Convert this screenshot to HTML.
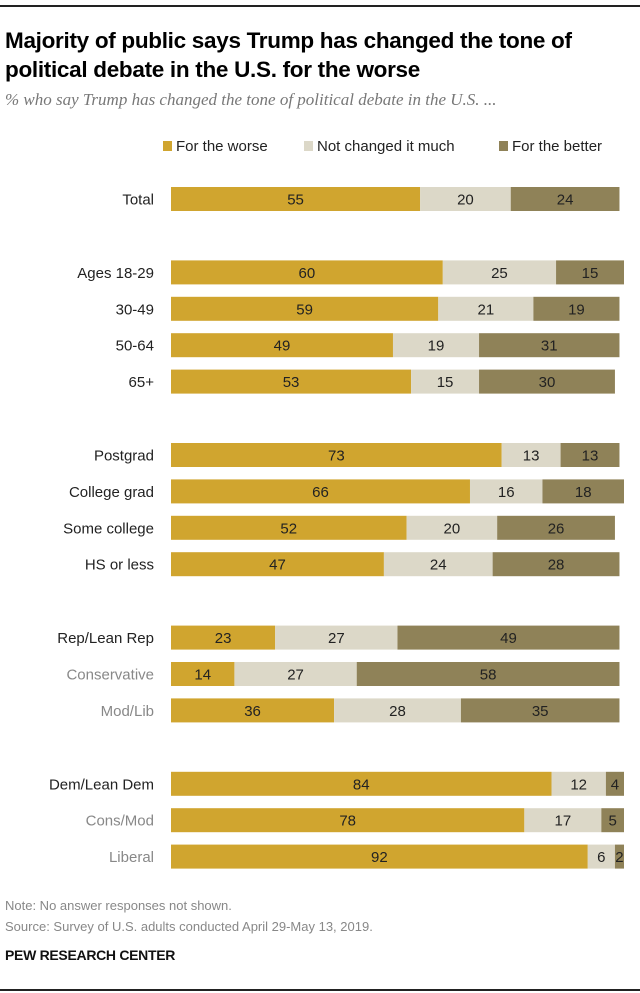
<!DOCTYPE html>
<html><head><meta charset="utf-8">
<style>
body{margin:0;background:#fff;}
#wrap{position:relative;width:640px;height:993px;font-family:"Liberation Sans",sans-serif;overflow:hidden;}
.t{position:absolute;white-space:nowrap;}
</style></head>
<body>
<div id="wrap">
<div class="t" style="left:0;top:5px;width:640px;height:2px;background:#222"></div>
<div class="t" style="left:5px;top:26px;font-size:22.5px;font-weight:bold;line-height:29px;color:#000;letter-spacing:-0.3px">Majority of public says Trump has changed the tone of<br>political debate in the U.S. for the worse</div>
<div class="t" style="left:5px;top:90px;font-family:'Liberation Serif',serif;font-style:italic;font-size:17px;color:#777">% who say Trump has changed the tone of political debate in the U.S. ...</div>
<div class="t" style="left:163px;top:138px;font-size:15px;color:#222"><span style="display:inline-block;width:9px;height:10px;background:#d0a52f;margin-right:4px"></span>For the worse</div>
<div class="t" style="left:304px;top:138px;font-size:15px;color:#222"><span style="display:inline-block;width:9px;height:10px;background:#dcd8c8;margin-right:4px"></span>Not changed it much</div>
<div class="t" style="left:499px;top:138px;font-size:15px;color:#222"><span style="display:inline-block;width:9px;height:10px;background:#8f8258;margin-right:4px"></span>For the better</div>
<svg id="chart" width="640" height="993" style="position:absolute;left:0;top:0"></svg>
<div class="t" style="left:5px;top:898px;font-size:13px;color:#888">Note: No answer responses not shown.</div>
<div class="t" style="left:5px;top:919px;font-size:13px;color:#888">Source: Survey of U.S. adults conducted April 29-May 13, 2019.</div>
<div class="t" style="left:5px;top:947px;font-size:14px;font-weight:bold;color:#111;letter-spacing:-0.3px">PEW RESEARCH CENTER</div>
<div class="t" style="left:0;top:989px;width:640px;height:2px;background:#222"></div>
</div>
<script>
const categories=["Total","Ages 18-29","30-49","50-64","65+","Postgrad","College grad","Some college","HS or less","Rep/Lean Rep","Conservative","Mod/Lib","Dem/Lean Dem","Cons/Mod","Liberal"];
const worse=[55,60,59,49,53,73,66,52,47,23,14,36,84,78,92];
const notChanged=[20,25,21,19,15,13,16,20,24,27,27,28,12,17,6];
const better=[24,15,19,31,30,13,18,26,28,49,58,35,4,5,2];
const subgroup=[0,0,0,0,0,0,0,0,0,0,1,1,0,1,1];
const groupIndex=[0,1,1,1,1,2,2,2,2,3,3,3,4,4,4];
const svg=document.getElementById('chart');
const NS='http://www.w3.org/2000/svg';
const x0=171, unit=4.53, barH=24;
function xs(v){return v*unit;}
function yc(i){return 199+i*36.4+groupIndex[i]*37;}
const colors=["#d0a52f","#dcd8c8","#8f8258"];
const series=[worse,notChanged,better];
const names=["worse","not-changed","better"];
categories.forEach((c,i)=>{
  const y=yc(i);
  const lab=document.createElementNS(NS,'text');
  
  
  lab.setAttribute('x',154);lab.setAttribute('y',y+5.5);
  lab.setAttribute('text-anchor','end');
  lab.setAttribute('font-family','Liberation Sans, sans-serif');
  lab.setAttribute('font-size','15');
  lab.setAttribute('fill',subgroup[i]?'#888':'#222');
  lab.textContent=c;svg.appendChild(lab);
  let x=x0;
  series.forEach((s,k)=>{
    const w=xs(s[i]);
    const r=document.createElementNS(NS,'rect');
    
    
    r.setAttribute('x',x);r.setAttribute('y',y-barH/2);
    r.setAttribute('width',w);r.setAttribute('height',barH);
    r.setAttribute('fill',colors[k]);svg.appendChild(r);
    const t=document.createElementNS(NS,'text');
    
    
    t.setAttribute('x',x+w/2);t.setAttribute('y',y+5.5);
    t.setAttribute('text-anchor','middle');
    t.setAttribute('font-family','Liberation Sans, sans-serif');
    t.setAttribute('font-size','15');t.setAttribute('fill','#222');
    t.textContent=s[i];svg.appendChild(t);
    x+=w;
  });
});
</script>
</body></html>
